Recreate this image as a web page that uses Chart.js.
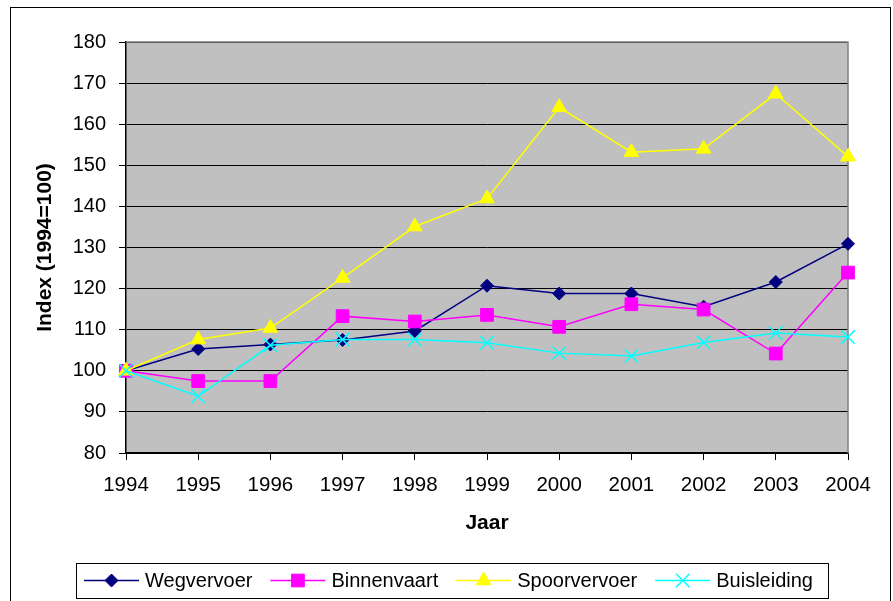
<!DOCTYPE html>
<html>
<head>
<meta charset="utf-8">
<script src="https://cdn.jsdelivr.net/npm/chart.js@4/dist/chart.umd.min.js"></script>
<style>
  html, body { margin: 0; padding: 0; background: #fff; }
  #wrap { width: 893px; height: 601px; }
</style>
</head>
<body>
<div id="wrap"><canvas id="indexChart" width="893" height="601"></canvas></div>
<script>
// Chart data
const years = ['1994', '1995', '1996', '1997', '1998', '1999', '2000', '2001', '2002', '2003', '2004'];
const wegvervoer = [100, 105.3, 106.4, 107.5, 109.7, 120.7, 118.8, 118.8, 115.6, 121.6, 130.9];
const binnenvaart = [100, 97.5, 97.5, 113.3, 112.0, 113.6, 110.7, 116.2, 114.9, 104.2, 123.9];
const spoorvervoer = [100, 107.6, 110.4, 122.6, 135.1, 141.9, 164.1, 153.2, 154.0, 167.4, 152.1];
const buisleiding = [100, 93.8, 106.2, 107.6, 107.6, 106.8, 104.3, 103.6, 106.9, 109.2, 108.2];
const seriesNames = ['Wegvervoer', 'Binnenvaart', 'Spoorvervoer', 'Buisleiding'];
const yMin = 80, yMax = 180, yStep = 10;

const FONT = "'Liberation Sans', Arial, sans-serif";
const COLORS = {
  navy: '#000080',
  magenta: '#FF00FF',
  yellow: '#FFFF00',
  cyan: '#00FFFF',
  plotBg: '#C0C0C0',
  plotBorder: '#808080'
};

function makeSeries(label, data, color, pointStyle, radius, order) {
  return {
    label: label,
    data: data,
    borderColor: color,
    backgroundColor: color,
    pointBackgroundColor: color,
    pointBorderColor: color,
    pointBorderWidth: pointStyle === 'crossRot' ? 1.5 : 1,
    pointStyle: pointStyle,
    pointRadius: radius,
    pointHoverRadius: radius,
    borderWidth: 1.5,
    tension: 0,
    fill: false,
    clip: false,
    order: order
  };
}

// plot background, outer frame, top/right plot border
const framePlugin = {
  id: 'frame',
  beforeDraw(chart) {
    const ctx = chart.ctx;
    const a = chart.chartArea;
    ctx.save();
    ctx.fillStyle = '#fff';
    ctx.fillRect(0, 0, chart.width, chart.height);
    ctx.fillStyle = COLORS.plotBg;
    ctx.fillRect(a.left, a.top, a.right - a.left, a.bottom - a.top);
    ctx.strokeStyle = '#000';
    ctx.lineWidth = 1;
    ctx.strokeRect(10.5, 7.5, 880, 600);
    ctx.restore();
  },
  beforeDatasetsDraw(chart) {
    const ctx = chart.ctx;
    const a = chart.chartArea;
    ctx.save();
    ctx.strokeStyle = COLORS.plotBorder;
    ctx.lineWidth = 1.5;
    ctx.beginPath();
    ctx.moveTo(a.left, a.top);
    ctx.lineTo(a.right, a.top);
    ctx.lineTo(a.right, a.bottom);
    ctx.stroke();
    ctx.restore();
  }
};

// boxed legend with line + marker samples, like the original
const boxLegendPlugin = {
  id: 'boxLegend',
  afterDraw(chart) {
    const ctx = chart.ctx;
    const box = { left: 76.5, top: 563.5, right: 828.5, bottom: 598.5 };
    const cy = 580.5;
    ctx.save();
    ctx.strokeStyle = '#000';
    ctx.lineWidth = 1;
    ctx.strokeRect(box.left, box.top, box.right - box.left, box.bottom - box.top);
    ctx.font = '20px ' + FONT;
    ctx.textBaseline = 'middle';
    let x = 84;
    chart.data.datasets.forEach(ds => {
      ctx.strokeStyle = ds.borderColor;
      ctx.lineWidth = ds.borderWidth;
      ctx.beginPath();
      ctx.moveTo(x, cy);
      ctx.lineTo(x + 55, cy);
      ctx.stroke();
      ctx.fillStyle = ds.pointBackgroundColor;
      ctx.strokeStyle = ds.pointBorderColor;
      ctx.lineWidth = ds.pointBorderWidth;
      Chart.helpers.drawPoint(ctx, {
        pointStyle: ds.pointStyle,
        radius: ds.pointRadius,
        rotation: 0,
        borderWidth: ds.pointBorderWidth
      }, x + 27.5, cy);
      ctx.fillStyle = '#000';
      ctx.fillText(ds.label, x + 61, cy + 1);
      x += 61 + ctx.measureText(ds.label).width + 18;
    });
    ctx.restore();
  }
};

const ctx = document.getElementById('indexChart').getContext('2d');
new Chart(ctx, {
  type: 'line',
  data: {
    labels: years,
    datasets: [
      makeSeries(seriesNames[0], wegvervoer, COLORS.navy, 'rectRot', 6.5, 3),
      makeSeries(seriesNames[1], binnenvaart, COLORS.magenta, 'rect', 9, 2),
      makeSeries(seriesNames[2], spoorvervoer, COLORS.yellow, 'triangle', 8.5, 1),
      makeSeries(seriesNames[3], buisleiding, COLORS.cyan, 'crossRot', 9.5, 0)
    ]
  },
  options: {
    responsive: false,
    animation: false,
    events: [],
    layout: { padding: { top: 42, right: 45, bottom: 0, left: 0 } },
    plugins: {
      legend: { display: false },
      tooltip: { enabled: false }
    },
    scales: {
      x: {
        type: 'category',
        offset: false,
        afterFit(scale) { scale.height = 148; },
        grid: {
          drawOnChartArea: false,
          drawTicks: true,
          tickLength: 7,
          color: '#000',
          lineWidth: 1
        },
        border: { display: true, color: '#000', width: 1.5 },
        ticks: {
          color: '#000',
          padding: 13,
          maxRotation: 0,
          autoSkip: false,
          font: { family: FONT, size: 20.5 }
        },
        title: {
          display: true,
          text: 'Jaar',
          color: '#000',
          font: { family: FONT, size: 21, weight: 'bold' },
          padding: { top: 0, bottom: 65 }
        }
      },
      y: {
        min: yMin,
        max: yMax,
        afterFit(scale) { scale.width = 126; },
        grid: {
          drawTicks: true,
          tickLength: 7,
          color: '#000',
          lineWidth: 1
        },
        border: { display: true, color: '#000', width: 1.5 },
        ticks: {
          stepSize: yStep,
          color: '#000',
          padding: 13,
          font: { family: FONT, size: 20 }
        },
        title: {
          display: true,
          text: 'Index (1994=100)',
          color: '#000',
          font: { family: FONT, size: 21, weight: 'bold' },
          padding: { top: 33, bottom: 0 }
        }
      }
    }
  },
  plugins: [framePlugin, boxLegendPlugin]
});
</script>
</body>
</html>
